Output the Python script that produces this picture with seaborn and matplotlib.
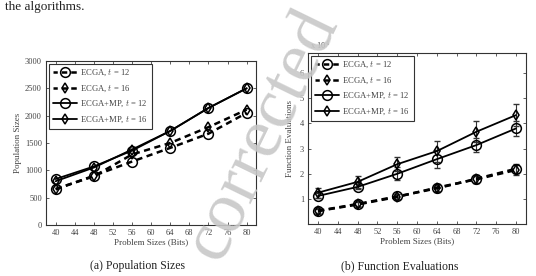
import numpy as np
import pandas as pd
import seaborn as sns
import matplotlib.pyplot as plt

sns.set_style("ticks")
plt.rcParams['font.family'] = ['Liberation Serif', 'DejaVu Serif']
plt.rcParams['mathtext.fontset'] = 'cm'

# problem sizes (bits)
sizes = [40, 48, 56, 64, 72, 80]
series = ["ECGA, $t$ = 12", "ECGA, $t$ = 16", "ECGA+MP, $t$ = 12", "ECGA+MP, $t$ = 16"]

# (a) population sizes
pop_ecga_12 = [650, 900, 1160, 1410, 1670, 2050]
pop_ecga_16 = [660, 890, 1290, 1500, 1790, 2110]
pop_mp_12 = [840, 1070, 1360, 1720, 2140, 2500]
pop_mp_16 = [800, 1050, 1380, 1720, 2140, 2500]

# (b) function evaluations (x 10^4) and error bars
fe_ecga_12 = [0.53, 0.80, 1.10, 1.42, 1.80, 2.20]
fe_ecga_16 = [0.52, 0.78, 1.08, 1.45, 1.78, 2.15]
fe_mp_12 = [1.12, 1.48, 2.00, 2.58, 3.14, 3.80]
fe_mp_16 = [1.25, 1.68, 2.38, 2.90, 3.67, 4.33]
err_ecga_12 = [0.10, 0.10, 0.10, 0.15, 0.15, 0.18]
err_ecga_16 = [0.10, 0.10, 0.10, 0.15, 0.15, 0.18]
err_mp_12 = [0.10, 0.10, 0.25, 0.35, 0.28, 0.28]
err_mp_16 = [0.20, 0.25, 0.27, 0.42, 0.42, 0.43]

styles = [("o", (0, (2.5, 1.8))), ("d", (0, (2.5, 1.8))), ("o", "-"), ("d", "-")]

fig = plt.figure(figsize=(5.36, 2.76), dpi=100)
ax1 = fig.add_axes([0.086, 0.185, 0.392, 0.594])
ax2 = fig.add_axes([0.575, 0.188, 0.406, 0.620])


def draw(ax, ys, errs=None):
    for name, y, (mk, ls), i in zip(series, ys, styles, range(4)):
        df = pd.DataFrame({"size": sizes, "val": y})
        lw = 1.8 if i < 2 else 1.3
        if errs is not None:
            ax.errorbar(sizes, y, yerr=errs[i], fmt="none", ecolor="#333333",
                        elinewidth=0.8, capsize=2, zorder=2)
        sns.lineplot(data=df, x="size", y="val", ax=ax, color="k", marker=mk,
                     linestyle=ls, linewidth=lw, markersize=7 if mk == "o" else 5.5,
                     mfc="none", mec="k", mew=1.1, label=name, zorder=3)
    ax.set_xlim(38, 82)
    ax.set_xticks(range(40, 81, 4))
    ax.set_xlabel("Problem Sizes (Bits)", fontsize=6.5, color="#444444", labelpad=1)
    ax.tick_params(direction="in", top=True, right=True, labelsize=6,
                   length=2.5, width=0.6, colors="#444444", pad=3)
    for s in ax.spines.values():
        s.set_linewidth(0.8)
        s.set_color("#333333")
    leg = ax.legend(loc="upper left", fontsize=6.2, handlelength=2.8,
                    fancybox=False, framealpha=1, edgecolor="#333333",
                    borderpad=0.5, labelspacing=0.6, handletextpad=0.3,
                    borderaxespad=0.3)
    leg.get_frame().set_linewidth(0.8)
    for h in leg.legend_handles[:2]:
        h.set_linestyle((0.5, (2.2, 1.6)))
    for t in leg.get_texts():
        t.set_color("#444444")


draw(ax1, [pop_ecga_12, pop_ecga_16, pop_mp_12, pop_mp_16])
ax1.set_ylim(0, 3000)
ax1.set_yticks(range(0, 3001, 500))
ax1.set_ylabel("Population Sizes", fontsize=6.5, color="#444444", labelpad=2)

draw(ax2, [fe_ecga_12, fe_ecga_16, fe_mp_12, fe_mp_16],
     [err_ecga_12, err_ecga_16, err_mp_12, err_mp_16])
ax2.set_ylim(0, 6.8)
ax2.set_yticks(range(1, 7))
ax2.set_ylabel("Function Evaluations", fontsize=6.5, color="#444444", labelpad=4)
ax2.text(0.01, 1.01, "x 10$^4$", transform=ax2.transAxes, fontsize=6,
         color="#444444", ha="left", va="bottom")

fig.text(0.01, 0.995, "the algorithms.", fontsize=9.5, ha="left", va="top", color="#222222")
fig.text(0.256, 0.035, "(a) Population Sizes", fontsize=8.5, ha="center", va="center", color="#222222")
fig.text(0.746, 0.035, "(b) Function Evaluations", fontsize=8.5, ha="center", va="center", color="#222222")

# watermark
fig.text(0.49, 0.51, "corrected", fontsize=52, rotation=64, ha="center", va="center",
         color="#c8c8c8", alpha=0.9, zorder=10)

fig.savefig("out.png", dpi=100)
